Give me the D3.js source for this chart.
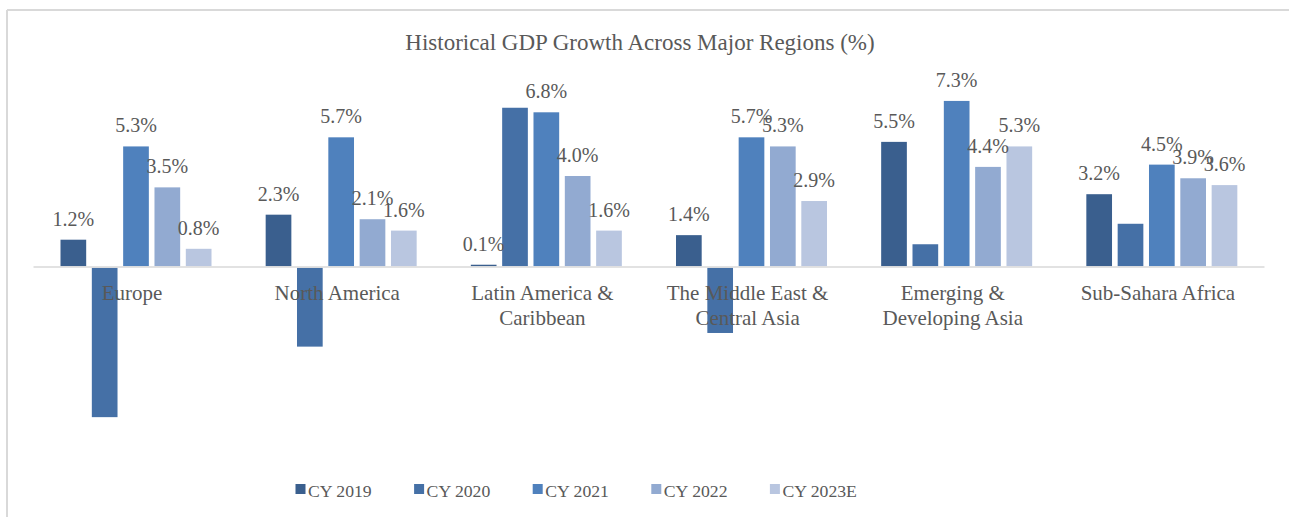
<!DOCTYPE html>
<html>
<head>
<meta charset="utf-8">
<script src="https://cdn.jsdelivr.net/npm/d3@7/dist/d3.min.js"></script>
<style>
  html, body { margin: 0; padding: 0; background: #fff; }
  svg { display: block; }
  text { font-family: "Liberation Serif", "Times New Roman", serif; fill: #595959; }
</style>
</head>
<body>
<svg id="chart" width="1289" height="517"></svg>
<script>
// ---- Data ----
const regions = [
  ["Europe"],
  ["North America"],
  ["Latin America &", "Caribbean"],
  ["The Middle East &", "Central Asia"],
  ["Emerging &", "Developing Asia"],
  ["Sub-Sahara Africa"]
];
const seriesNames = ["CY 2019", "CY 2020", "CY 2021", "CY 2022", "CY 2023E"];
const cy2019  = [1.2, 2.3, 0.1, 1.4, 5.5, 3.2];
const cy2020  = [-6.6, -3.5, 7.0, -2.9, 1.0, 1.9];
const cy2021  = [5.3, 5.7, 6.8, 5.7, 7.3, 4.5];
const cy2022  = [3.5, 2.1, 4.0, 5.3, 4.4, 3.9];
const cy2023E = [0.8, 1.6, 1.6, 2.9, 5.3, 3.6];
const showLabel = [true, false, true, true, true];
const colors = ["#3A5F8E", "#4570A6", "#4F81BD", "#92AAD1", "#B9C6E0"];
const yDomain = [-8, 8];

const seriesValues = [cy2019, cy2020, cy2021, cy2022, cy2023E];
const regionKeys = regions.map(r => r.join(" "));

// ---- Layout ----
const svg = d3.select("#chart");
const W = 1289, H = 517;

// chart border (top & left visible)
svg.append("line").attr("x1", 7).attr("x2", W).attr("y1", 10).attr("y2", 10)
  .attr("stroke", "#D9D9D9").attr("stroke-width", 2);
svg.append("line").attr("x1", 7).attr("x2", 7).attr("y1", 10).attr("y2", H)
  .attr("stroke", "#D9D9D9").attr("stroke-width", 2);

svg.append("text")
  .attr("x", 640).attr("y", 50)
  .attr("text-anchor", "middle")
  .style("font-size", "23px")
  .text("Historical GDP Growth Across Major Regions (%)");

const x0 = d3.scaleBand().domain(regionKeys).range([33.5, 1264.5]).padding(0);
const x1 = d3.scaleBand().domain(seriesNames).range([27, 178]).paddingInner(0.18).paddingOuter(0);
const y = d3.scaleLinear().domain(yDomain).range([449, 85]);

const groups = svg.append("g").selectAll("g")
  .data(regionKeys)
  .join("g")
  .attr("transform", d => `translate(${x0(d)},0)`);

groups.each(function(rk, ri) {
  const g = d3.select(this);
  seriesNames.forEach((s, si) => {
    const v = seriesValues[si][ri];
    g.append("rect")
      .attr("x", x1(s))
      .attr("width", x1.bandwidth())
      .attr("y", v >= 0 ? y(v) : y(0) + 0.8)
      .attr("height", v >= 0 ? y(0) - y(v) - 0.8 : y(v) - y(0) - 0.8)
      .attr("fill", colors[si]);
  });
});

// zero axis line
svg.append("line")
  .attr("x1", x0.range()[0]).attr("x2", x0.range()[1])
  .attr("y1", y(0)).attr("y2", y(0))
  .attr("stroke", "#D9D9D9").attr("stroke-width", 1.5);

// data labels
groups.each(function(rk, ri) {
  const g = d3.select(this);
  seriesNames.forEach((s, si) => {
    if (!showLabel[si]) return;
    const v = seriesValues[si][ri];
    g.append("text")
      .attr("x", x1(s) + x1.bandwidth() / 2)
      .attr("y", y(Math.max(v, 0)) - 14)
      .attr("text-anchor", "middle")
      .style("font-size", "20px")
      .text(v.toFixed(1) + "%");
  });
});

// category labels
groups.each(function(rk, ri) {
  const g = d3.select(this);
  const t = g.append("text")
    .attr("text-anchor", "middle")
    .style("font-size", "21px");
  regions[ri].forEach((line, li) => {
    t.append("tspan")
      .attr("x", x0.bandwidth() / 2 - 4)
      .attr("y", 300 + li * 24.5)
      .text(line);
  });
});

// legend
const legend = svg.append("g").selectAll("g")
  .data(seriesNames)
  .join("g")
  .attr("transform", (d, i) => `translate(${295.5 + i * 118.6},0)`);
legend.append("rect")
  .attr("x", 0).attr("y", 484).attr("width", 10).attr("height", 10)
  .attr("fill", (d, i) => colors[i]);
legend.append("text")
  .attr("x", 12.5).attr("y", 497)
  .style("font-size", "17.7px")
  .text(d => d);
</script>
</body>
</html>
